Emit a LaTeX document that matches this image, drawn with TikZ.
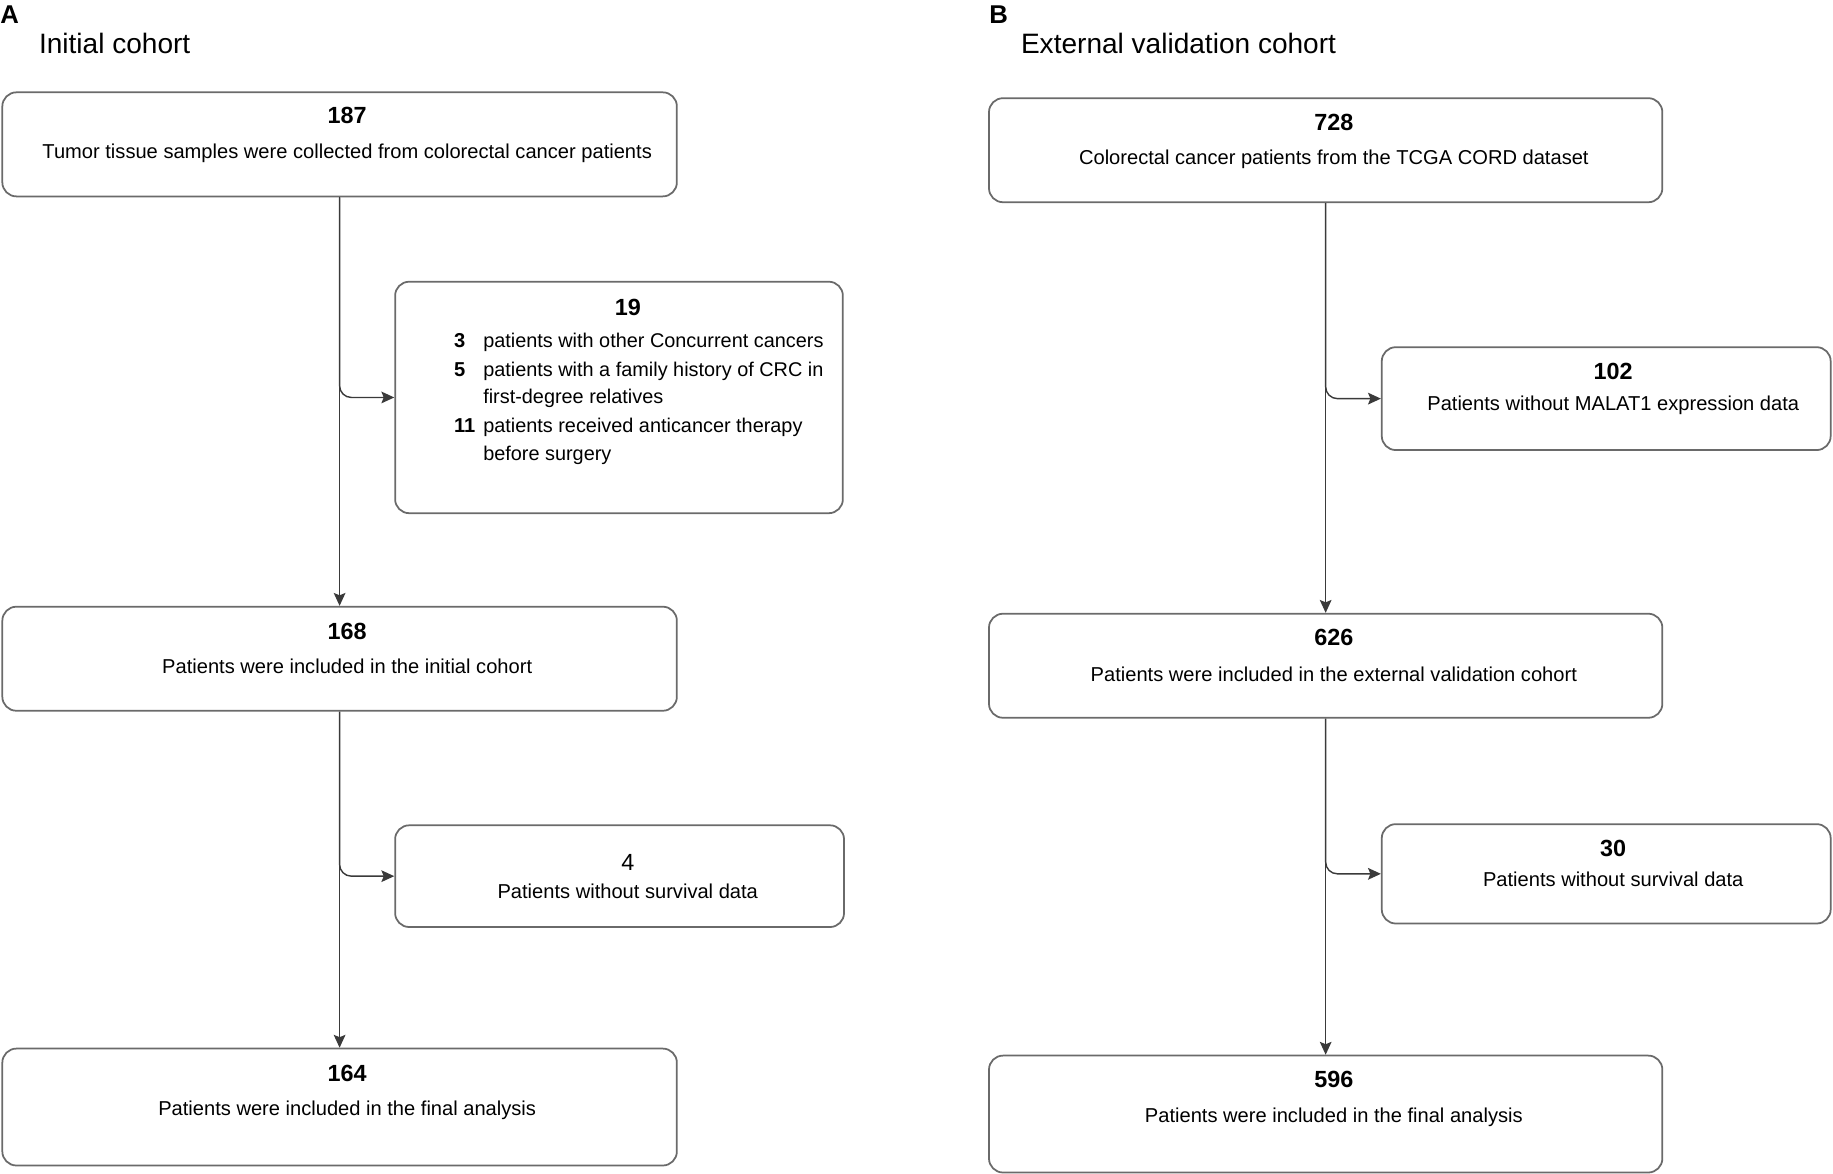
\documentclass[tikz,border=0pt]{standalone}
\usepackage{fontspec}
\setmainfont{Liberation Sans}
\usetikzlibrary{arrows.meta,calc,fit}
\definecolor{boxgray}{HTML}{6A6A6A}
\definecolor{arrgray}{HTML}{3A3A3A}
\begin{document}
\begin{tikzpicture}[x=0.5pt,y=-0.5pt,
  box/.style={draw=boxgray, line width=0.75pt, rounded corners=6pt, inner sep=0pt},
  arr/.style={draw=arrgray, line width=0.6pt, -{Stealth[length=5.5pt,width=5pt,inset=1pt]}},
  num/.style={font=\fontsize{10}{12}\selectfont\bfseries, anchor=base, inner sep=0pt},
  numreg/.style={font=\fontsize{10}{12}\selectfont, anchor=base, inner sep=0pt},
  txt/.style={font=\fontsize{8.6}{10.5}\selectfont, anchor=base, inner sep=0pt},
  lnum/.style={font=\fontsize{8.6}{11}\selectfont\bfseries, anchor=base west, inner sep=0pt},
  ltxt/.style={font=\fontsize{8.5}{11}\selectfont, anchor=base west, inner sep=0pt},
  panel/.style={font=\fontsize{11}{13}\selectfont\bfseries, anchor=base west, inner sep=0pt},
  ttl/.style={font=\fontsize{12}{14}\selectfont, anchor=base west, inner sep=0pt}
]
\useasboundingbox (0,0) rectangle (1568,1004);
\fill[white] (0,0) rectangle (1568,1004);

% ---------- Panel A ----------
\node[panel] (pa) at (0,20) {A};
\node[ttl] (ta) at (33,46) {Initial cohort};

\node[box, fit={(2,79) (579,168)}] (b1) {};
\node[box, fit={(338,241) (721,439)}] (e1) {};
\node[box, fit={(2,519) (579,608)}] (b2) {};
\node[box, fit={(338,706) (722,793)}] (e2) {};
\node[box, fit={(2,897) (579,997)}] (b3) {};

\node[num] (n187) at (297,106) {187};
\node[txt] (t187) at (297,136) {Tumor tissue samples were collected from colorectal cancer patients};

\node[num] (n19) at (537,270) {19};
\node[lnum] (l1n) at (388,297) {3};
\node[ltxt] (l1t) at (413,297) {patients with other Concurrent cancers};
\node[lnum] (l2n) at (388,322) {5};
\node[ltxt] (l2t) at (413,322) {patients with a family history of CRC in};
\node[ltxt] (l2u) at (413,345) {first-degree relatives};
\node[lnum] (l3n) at (388,370) {11};
\node[ltxt] (l3t) at (413,370) {patients received anticancer therapy};
\node[ltxt] (l3u) at (413,394) {before surgery};

\node[num] (n168) at (297,547) {168};
\node[txt] (t168) at (297,576) {Patients were included in the initial cohort};

\node[numreg] (n4) at (537,745) {4};
\node[txt] (t4) at (537,769) {Patients without survival data};

\node[num] (n164) at (297,925) {164};
\node[txt] (t164) at (297,954) {Patients were included in the final analysis};

\draw[arr] (b1.south) -- (b2.north);
\draw[arr, rounded corners=5pt] (b1.south) |- (e1.west);
\draw[arr] (b2.south) -- (b3.north);
\draw[arr, rounded corners=5pt] (b2.south) |- (e2.west);

% ---------- Panel B ----------
\node[panel] (pb) at (846,20) {B};
\node[ttl] (tb) at (873,46) {External validation cohort};

\node[box, fit={(846,84) (1422,173)}] (c1) {};
\node[box, fit={(1182,297) (1566,385)}] (f1) {};
\node[box, fit={(846,525) (1422,614)}] (c2) {};
\node[box, fit={(1182,705) (1566,790)}] (f2) {};
\node[box, fit={(846,903) (1422,1003)}] (c3) {};

\node[num] (n728) at (1141,112) {728};
\node[txt] (t728) at (1141,141) {Colorectal cancer patients from the TCGA CORD dataset};

\node[num] (n102) at (1380,325) {102};
\node[txt] (t102) at (1380,351) {Patients without MALAT1 expression data};

\node[num] (n626) at (1141,552) {626};
\node[txt] (t626) at (1141,583) {Patients were included in the external validation cohort};

\node[num] (n30) at (1380,733) {30};
\node[txt] (t30) at (1380,758) {Patients without survival data};

\node[num] (n596) at (1141,930) {596};
\node[txt] (t596) at (1141,960) {Patients were included in the final analysis};

\draw[arr] (c1.south) -- (c2.north);
\draw[arr, rounded corners=5pt] (c1.south) |- (f1.west);
\draw[arr] (c2.south) -- (c3.north);
\draw[arr, rounded corners=5pt] (c2.south) |- (f2.west);
\end{tikzpicture}
\end{document}
